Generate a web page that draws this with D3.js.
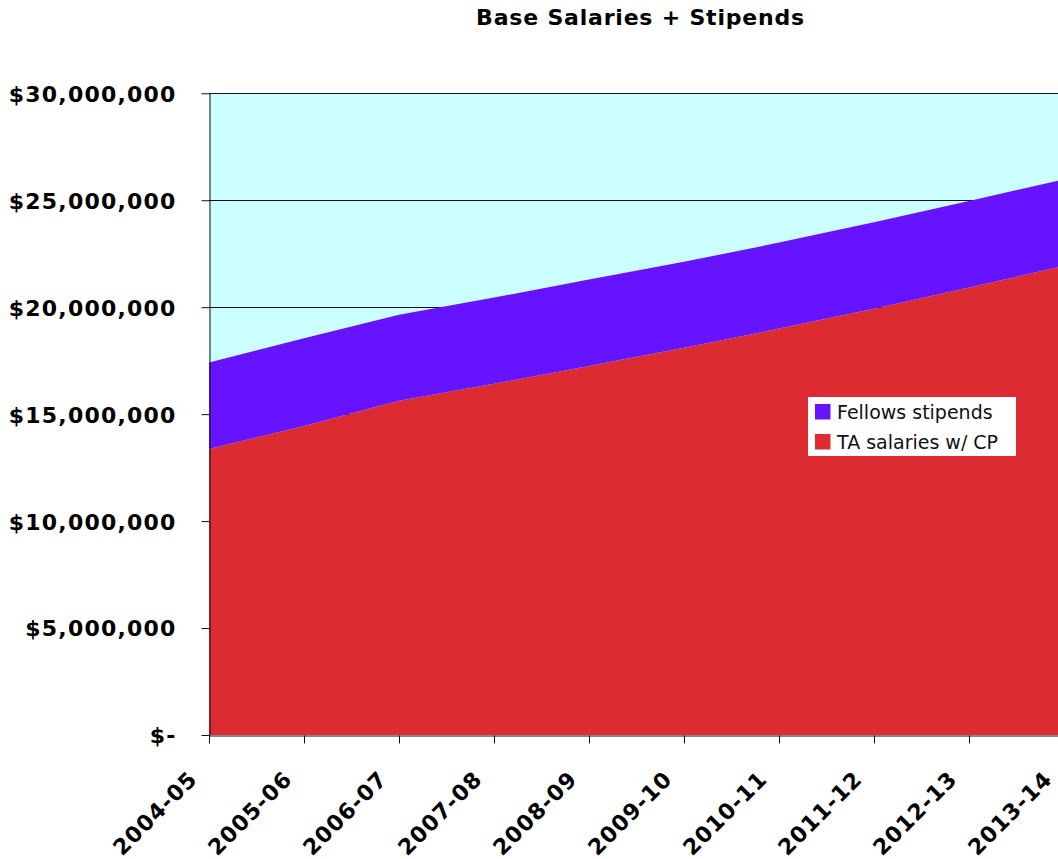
<!DOCTYPE html>
<html>
<head>
<meta charset="utf-8">
<script src="https://cdn.jsdelivr.net/npm/d3@7"></script>
<style>
  html, body { margin: 0; padding: 0; background: #ffffff; }
  svg { display: block; }
</style>
</head>
<body>
<svg id="chart" width="1058" height="859"></svg>
<script>
// Academic years on the category axis
const years = ["2004-05", "2005-06", "2006-07", "2007-08", "2008-09",
               "2009-10", "2010-11", "2011-12", "2012-13", "2013-14"];

// TA salaries including CP (dollars)
const taSalaries = [13370000, 14450000, 15630000, 16420000, 17250000,
                    18100000, 19000000, 19930000, 20920000, 21930000];

// Fellows stipends (dollars), stacked on top of the TA salaries
const fellowsStipends = [4050000, 4100000, 4020000, 4030000, 4050000,
                         4020000, 4020000, 4040000, 4050000, 4040000];

// Value-axis ticks and their labels
const yTicks = [0, 5000000, 10000000, 15000000, 20000000, 25000000, 30000000];
const yTickLabels = ["$-", "$5,000,000", "$10,000,000", "$15,000,000",
                     "$20,000,000", "$25,000,000", "$30,000,000"];

const seriesNames = ["Fellows stipends", "TA salaries w/ CP"];
const seriesColors = { ta: "#dc2c32", fellows: "#6614ff" };

const svg = d3.select("#chart");

const plotLeft = 209, plotRight = 1064, plotTop = 93.3, plotBottom = 735;

const x = d3.scalePoint().domain(years).range([plotLeft, plotRight]);
const y = d3.scaleLinear().domain([0, 30000000]).range([plotBottom, plotTop]);

const rows = years.map((yr, i) => ({ year: yr, ta: taSalaries[i], fellows: fellowsStipends[i] }));
const layers = d3.stack().keys(["ta", "fellows"])(rows);

// Title
svg.append("text")
  .attr("x", 640.5).attr("y", 25)
  .attr("text-anchor", "middle")
  .attr("font-family", "DejaVu Sans, Verdana, sans-serif")
  .attr("font-weight", "bold")
  .attr("font-size", 22)
  .attr("letter-spacing", 0.8)
  .attr("fill", "#000")
  .text("Base Salaries + Stipends");

// Plot background
svg.append("rect")
  .attr("x", plotLeft).attr("y", plotTop)
  .attr("width", plotRight - plotLeft).attr("height", plotBottom - plotTop)
  .attr("fill", "#ccffff");

// Horizontal gridlines
svg.append("g")
  .selectAll("line")
  .data(yTicks.filter(d => d > 0))
  .join("line")
  .attr("x1", plotLeft).attr("x2", plotRight)
  .attr("y1", d => Math.round(y(d)) + 0.5).attr("y2", d => Math.round(y(d)) + 0.5)
  .attr("stroke", "#111").attr("stroke-width", 1);

// Stacked areas
const area = d3.area()
  .x((d, i) => x(years[i]))
  .y0(d => y(d[0]))
  .y1(d => y(d[1]));

svg.append("g")
  .selectAll("path")
  .data(layers)
  .join("path")
  .attr("d", area)
  .attr("fill", d => seriesColors[d.key]);

// Value axis
const yAxis = d3.axisLeft(y)
  .tickValues(yTicks)
  .tickFormat((d, i) => yTickLabels[i])
  .tickSize(8)
  .tickPadding(25)
  .tickSizeOuter(0);

const gy = svg.append("g")
  .attr("transform", `translate(${plotLeft + 0.5},0)`)
  .call(yAxis);
gy.select(".domain").attr("stroke", "#111");
gy.selectAll(".tick line").attr("stroke", "#111");
gy.selectAll(".tick text")
  .attr("font-family", "DejaVu Sans, Verdana, sans-serif")
  .attr("font-weight", "bold")
  .attr("font-size", 22)
  .attr("letter-spacing", 1.2)
  .attr("fill", "#000")
  .attr("dy", "0.36em");

// Category axis
const xAxis = d3.axisBottom(x)
  .tickSize(8)
  .tickSizeOuter(0);

const gx = svg.append("g")
  .attr("transform", `translate(0,${plotBottom + 0.5})`)
  .call(xAxis);
gx.select(".domain").attr("stroke", "#111");
gx.selectAll(".tick line").attr("stroke", "#111");
gx.selectAll(".tick text")
  .attr("font-family", "DejaVu Sans, Verdana, sans-serif")
  .attr("font-weight", "bold")
  .attr("font-size", 22)
  .attr("letter-spacing", 1)
  .attr("fill", "#000")
  .attr("text-anchor", "end")
  .attr("y", 0).attr("dy", 0)
  .attr("transform", "translate(-11,45) rotate(-45)");

// Legend
const legend = svg.append("g");
legend.append("rect")
  .attr("x", 808).attr("y", 397)
  .attr("width", 208).attr("height", 59)
  .attr("fill", "#ffffff");

const legendItems = [
  { name: seriesNames[0], color: seriesColors.fellows },
  { name: seriesNames[1], color: seriesColors.ta }
];
const li = legend.selectAll("g.item")
  .data(legendItems)
  .join("g")
  .attr("class", "item")
  .attr("transform", (d, i) => `translate(815,${404 + i * 30})`);
li.append("rect")
  .attr("width", 15.5).attr("height", 15.5)
  .attr("fill", d => d.color);
li.append("text")
  .attr("x", 22).attr("y", 15)
  .attr("font-family", "DejaVu Sans, Verdana, sans-serif")
  .attr("font-size", 19)
  .attr("fill", "#111")
  .text(d => d.name);
</script>
</body>
</html>
